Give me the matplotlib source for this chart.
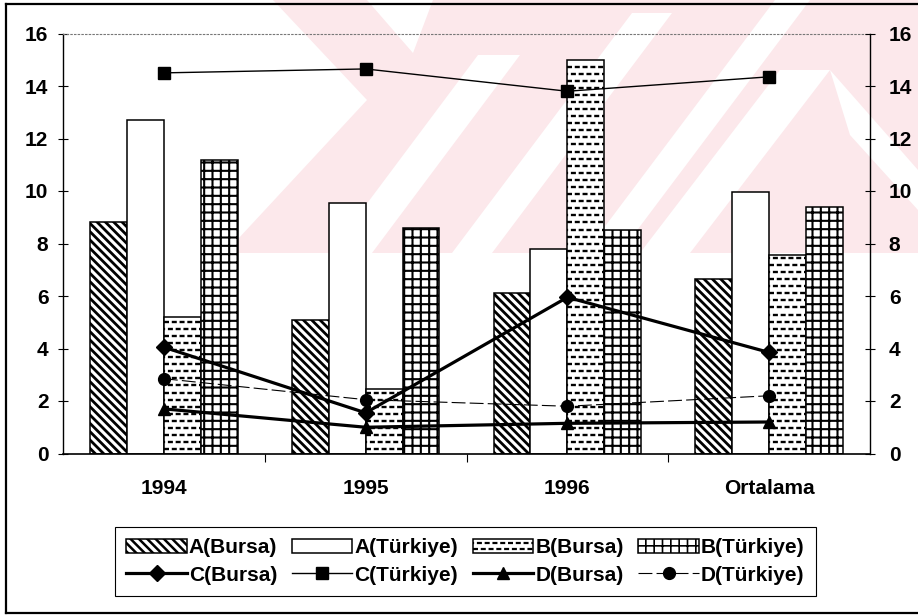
import numpy as np
import matplotlib.pyplot as plt
from matplotlib.patches import Rectangle, Polygon
from matplotlib.lines import Line2D
from matplotlib.legend_handler import HandlerPatch

plt.rcParams['font.family'] = ['Liberation Sans', 'DejaVu Sans']
plt.rcParams['font.weight'] = 'bold'
plt.rcParams['lines.scale_dashes'] = False
plt.rcParams['hatch.linewidth'] = 1.8

# data
categories = ['1994', '1995', '1996', 'Ortalama']
a_bursa = [8.8, 5.1, 6.1, 6.65]
a_turkiye = [12.7, 9.55, 7.8, 9.95]
b_bursa = [5.2, 2.45, 15.0, 7.55]
b_turkiye = [11.2, 8.6, 8.5, 9.4]
c_bursa = [4.05, 1.55, 5.95, 3.85]
c_turkiye = [14.5, 14.65, 13.8, 14.35]
d_bursa = [1.7, 1.0, 1.15, 1.2]
d_turkiye = [2.85, 2.05, 1.8, 2.2]

W, H = 918, 616
fig = plt.figure(figsize=(W / 100, H / 100), dpi=100)


def px(x, y):
    # pixel (from top-left) -> figure fraction
    return (x / W, 1 - y / H)


# faint pink watermark in the background (scan artefact)
pink = '#fce8eb'
fig.add_artist(Polygon([px(273, 0), px(918, 0), px(918, 253), px(225, 253), px(367, 100)],
                       closed=True, transform=fig.transFigure, facecolor=pink,
                       edgecolor='none', zorder=-10))
white_bands = [
    [(367, 0), (433, 0), (413, 53)],
    [(330, 253), (372, 253), (520, 55), (478, 55)],
    [(452, 253), (492, 253), (672, 13), (632, 13)],
    [(585, 253), (620, 253), (810, 0), (775, 0)],
    [(640, 253), (690, 253), (830, 70), (780, 70)],
    [(830, 70), (918, 170), (918, 210), (850, 135)],
]
for band in white_bands:
    fig.add_artist(Polygon([px(*p) for p in band], closed=True, transform=fig.transFigure,
                           facecolor='white', edgecolor='none', zorder=-9))

# outer frame
for xs, ys in [((6, 6), (4, 613)), ((6, 918), (4, 4)), ((6, 918), (613, 613))]:
    p0, p1 = px(xs[0], ys[0]), px(xs[1], ys[1])
    fig.add_artist(Line2D([p0[0], p1[0]], [p0[1], p1[1]], transform=fig.transFigure,
                          color='black', lw=1.6))

ax = fig.add_axes([63 / W, 1 - 453.5 / H, (870 - 63) / W, (453.5 - 33.5) / H])
ax.patch.set_alpha(0)

x = np.arange(len(categories))
w = 0.183


def hatch_lw(bars, lw):
    for p in bars:
        if hasattr(p, 'set_hatch_linewidth'):
            p.set_hatch_linewidth(lw)


def dash_rows(ax, rect, step=0.27):
    x0 = rect.get_x()
    x1 = x0 + rect.get_width()
    for i, y in enumerate(np.arange(step * 0.6, rect.get_height(), step)):
        off = 0 if i % 2 == 0 else 2.8
        ln, = ax.plot([x0, x1], [y, y], color='black', lw=1.7,
                      linestyle=(off, (3.6, 2.0)), solid_capstyle='butt', zorder=2.5)
        ln.set_clip_path(rect)


bars_ab = ax.bar(x - 1.5 * w, a_bursa, w, color='white', edgecolor='black',
                 lw=1.1, hatch='\\' * 4, zorder=2, label='A(Bursa)')
hatch_lw(bars_ab, 2.0)
bars_at = ax.bar(x - 0.5 * w, a_turkiye, w, color='white', edgecolor='black',
                 lw=1.1, zorder=2, label='A(Türkiye)')
bars_bb = ax.bar(x + 0.5 * w, b_bursa, w, color='white', edgecolor='black',
                 lw=1.1, zorder=2, label='B(Bursa)')
for r in bars_bb:
    dash_rows(ax, r)
bars_bt = ax.bar(x + 1.5 * w, b_turkiye, w, color='white', edgecolor='black',
                 lw=1.1, hatch='++', zorder=2, label='B(Türkiye)')
hatch_lw(bars_bt, 1.5)

l_cb, = ax.plot(x, c_bursa, color='black', lw=2.3, marker='D', ms=8, zorder=4, label='C(Bursa)')
l_ct, = ax.plot(x, c_turkiye, color='black', lw=1.0, marker='s', ms=9, zorder=4, label='C(Türkiye)')
l_db, = ax.plot(x, d_bursa, color='black', lw=2.3, marker='^', ms=8.5, zorder=4, label='D(Bursa)')
l_dt, = ax.plot(x, d_turkiye, color='black', lw=0.8, linestyle=(0, (10, 3)), marker='o', ms=8.5,
                zorder=4, label='D(Türkiye)')

ax.set_xlim(-0.5, 3.5)
ax.set_ylim(0, 16)
ax.set_yticks(np.arange(0, 17, 2))
ax.tick_params(axis='y', direction='inout', length=7, width=0.8, labelsize=15, pad=7)
ax.set_xticks([0.5, 1.5, 2.5])
ax.set_xticklabels([])
ax.tick_params(axis='x', which='major', direction='out', length=6, width=0.8)
ax.set_xticks(x, minor=True)
ax.set_xticklabels(categories, minor=True)
ax.tick_params(axis='x', which='minor', length=0, labelsize=15, pad=18)

ax.spines['top'].set_color('#777777')
ax.spines['top'].set_linestyle(':')
ax.spines['top'].set_linewidth(0.8)
ax.spines['right'].set_visible(False)
ax.spines['left'].set_linewidth(1.0)
ax.spines['bottom'].set_linewidth(1.2)

ax2 = ax.twinx()
ax2.set_ylim(0, 16)
ax2.set_yticks(np.arange(0, 17, 2))
ax2.tick_params(axis='y', direction='inout', length=7, width=0.8, labelsize=15, pad=10)
for s in ['top', 'left', 'bottom']:
    ax2.spines[s].set_visible(False)
ax2.spines['right'].set_linewidth(1.0)


class DashPatchHandler(HandlerPatch):
    def create_artists(self, legend, orig_handle, xdescent, ydescent, width, height, fontsize, trans):
        rect = Rectangle((-xdescent, -ydescent), width, height, facecolor='white',
                         edgecolor='black', lw=1.1, transform=trans)
        arts = [rect]
        for i, fy in enumerate([0.3, 0.7]):
            yy = -ydescent + fy * height
            ln = Line2D([-xdescent, -xdescent + width], [yy, yy], color='black', lw=1.6,
                        linestyle=(0 if i == 0 else 2.8, (3.6, 2.0)), transform=trans)
            arts.append(ln)
        return arts


handles = [bars_ab, l_cb, bars_at, l_ct, bars_bb, l_db, bars_bt, l_dt]
labels = ['A(Bursa)', 'C(Bursa)', 'A(Türkiye)', 'C(Türkiye)',
          'B(Bursa)', 'D(Bursa)', 'B(Türkiye)', 'D(Türkiye)']
x0, y0 = px(115, 597)
x1, y1 = px(816, 526)
leg = fig.legend(handles, labels, ncol=4, loc='center', mode='expand',
                 bbox_to_anchor=(x0, y0, x1 - x0, y1 - y0), borderaxespad=0,
                 handler_map={bars_bb: DashPatchHandler()},
                 prop={'size': 15, 'weight': 'bold'}, fancybox=False, framealpha=1,
                 edgecolor='black', handlelength=2.9, handletextpad=0.1,
                 labelspacing=0.4, borderpad=0.55, columnspacing=0.6)
leg.get_frame().set_linewidth(0.8)
for h in leg.legend_handles:
    if h.get_hatch() if hasattr(h, 'get_hatch') else False:
        hatch_lw([h], 1.8 if '\\' in h.get_hatch() else 1.2)

plt.savefig('out.png', dpi=100)
